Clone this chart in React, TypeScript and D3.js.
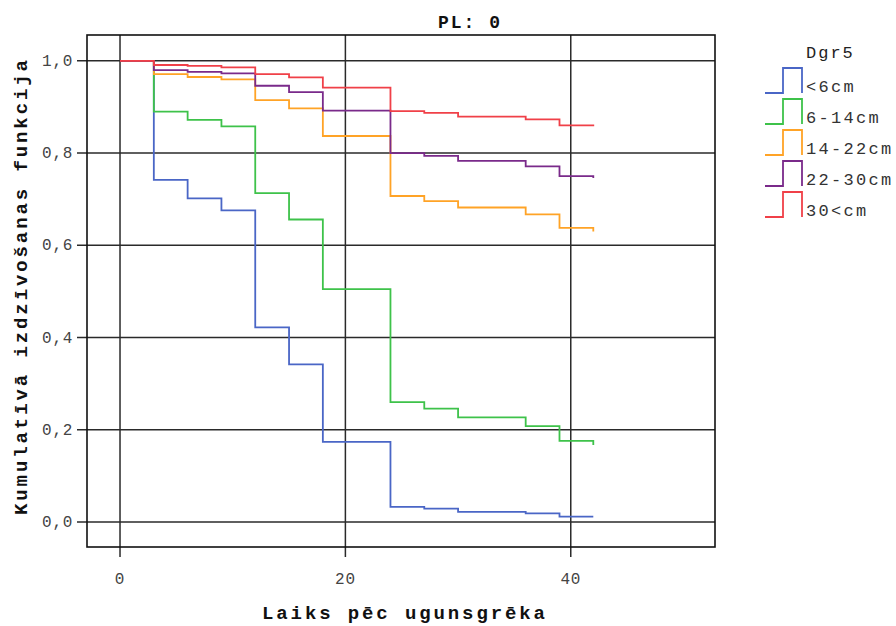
import React from "react";
import * as d3 from "d3";

const times = [0, 3, 6, 9, 12, 15, 18, 24, 27, 30, 36, 39, 42];
const groups = ["<6cm", "6-14cm", "14-22cm", "22-30cm", "30<cm"];
const colors = ["#4a66c6", "#3ec24a", "#ffa326", "#7a2a8a", "#f04048"];
const survLt6 = [1, 0.742, 0.702, 0.676, 0.422, 0.342, 0.174, 0.033, 0.029, 0.022, 0.019, 0.012, 0.012];
const surv6to14 = [1, 0.89, 0.872, 0.858, 0.713, 0.656, 0.505, 0.26, 0.246, 0.227, 0.208, 0.176, 0.167];
const surv14to22 = [1, 0.971, 0.965, 0.96, 0.915, 0.897, 0.837, 0.707, 0.696, 0.682, 0.667, 0.638, 0.63];
const surv22to30 = [1, 0.98, 0.976, 0.973, 0.946, 0.932, 0.892, 0.8, 0.794, 0.783, 0.771, 0.75, 0.746];
const surv30 = [1, 0.991, 0.989, 0.986, 0.971, 0.964, 0.942, 0.891, 0.887, 0.879, 0.873, 0.86, 0.858];
const seriesValues = [survLt6, surv6to14, surv14to22, surv22to30, surv30];
const xTicks = [0, 20, 40];
const yTicks = [0, 0.2, 0.4, 0.6, 0.8, 1.0];
const yTickLabels = ["0,0", "0,2", "0,4", "0,6", "0,8", "1,0"];
const title = "PL: 0";
const legendTitle = "Dgr5";
const xLabel = "Laiks pēc ugunsgrēka";
const yLabel = "Kumulatīvā izdzīvošanas funkcija";

const W = 896, H = 626;
const L = 87, R = 715, T = 35, B = 547;
const mono = "'Liberation Mono', 'DejaVu Sans Mono', monospace";

export default function App() {
  const x = d3.scaleLinear().domain([-2.93, 52.8]).range([L, R]);
  const y = d3.scaleLinear().domain([-0.054, 1.056]).range([B, T]);
  const line = d3
    .line<[number, number]>()
    .x((d) => x(d[0]))
    .y((d) => y(d[1]))
    .curve(d3.curveStepAfter);

  return (
    <svg width={W} height={H} style={{ position: "absolute", left: 0, top: 0, background: "#fff" }}>
      <rect x={0} y={0} width={W} height={H} fill="#fff" />
      {/* gridlines */}
      {yTicks.map((t) => (
        <line key={"gy" + t} x1={L - 10} x2={R} y1={y(t)} y2={y(t)} stroke="#2a2a2a" strokeWidth={1.5} />
      ))}
      {xTicks.map((t) => (
        <line key={"gx" + t} x1={x(t)} x2={x(t)} y1={T} y2={B + 10} stroke="#2a2a2a" strokeWidth={1.5} />
      ))}
      <rect x={L} y={T} width={R - L} height={B - T} fill="none" stroke="#111" strokeWidth={1.6} />
      {/* curves */}
      {seriesValues.map((vals, i) => (
        <path
          key={"s" + i}
          d={line(times.map((t, j) => [t, vals[j]] as [number, number])) || ""}
          fill="none"
          stroke={colors[i]}
          strokeWidth={1.8}
        />
      ))}
      {/* tick labels */}
      {yTicks.map((t, i) => (
        <text key={"ty" + t} x={73} y={y(t) + 5} textAnchor="end" fontFamily={mono} fontSize={16} fill="#444" letterSpacing={0.7}>
          {yTickLabels[i]}
        </text>
      ))}
      {xTicks.map((t) => (
        <text key={"tx" + t} x={x(t)} y={584} textAnchor="middle" fontFamily={mono} fontSize={16} fill="#444" letterSpacing={0.7}>
          {String(t)}
        </text>
      ))}
      {/* titles */}
      <text x={438} y={28} fontFamily={mono} fontSize={18} fontWeight="bold" fill="#111" textLength={62} lengthAdjust="spacing">
        {title}
      </text>
      <text x={262} y={619} fontFamily={mono} fontSize={19} fontWeight="bold" fill="#111" textLength={283} lengthAdjust="spacing">
        {xLabel}
      </text>
      <text
        transform={`translate(27,515) rotate(-90)`}
        fontFamily={mono}
        fontSize={19}
        fontWeight="bold"
        fill="#111"
        textLength={455}
        lengthAdjust="spacing"
      >
        {yLabel}
      </text>
      {/* legend */}
      <text x={806} y={58} fontFamily={mono} fontSize={17} fill="#222" letterSpacing={2}>
        {legendTitle}
      </text>
      {groups.map((g, i) => {
        const top = 68 + i * 31;
        const bot = top + 25;
        return (
          <g key={"lg" + i}>
            <path d={`M765,${bot} H783 V${top} H802 V${bot}`} fill="none" stroke={colors[i]} strokeWidth={1.8} />
            <text x={806} y={bot - 1} fontFamily={mono} fontSize={17} fill="#333" letterSpacing={2.3}>
              {g}
            </text>
          </g>
        );
      })}
    </svg>
  );
}
